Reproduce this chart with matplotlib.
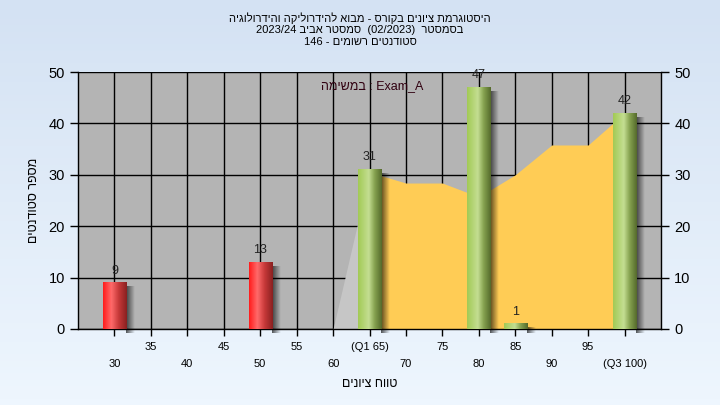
import numpy as np
import matplotlib.pyplot as plt
from matplotlib.colors import to_rgb

plt.rcParams['font.family'] = ['Liberation Sans', 'DejaVu Sans']

# Histogram data (grade bin -> number of students)
grades = [30, 50, 65, 80, 85, 100]
counts = [9, 13, 31, 47, 1, 42]

# Background area series
area_x = [65, 70, 75, 80, 85, 90, 95, 100]
area_y = [30.5, 28.4, 28.4, 25.7, 30, 35.8, 35.8, 42]
wedge_x = [60, 65]
wedge_y = [0, 30.5]

tick_pos = list(range(30, 101, 5))
tick_text = ['30', '35', '40', '45', '50', '55', '60', '(Q1 65)',
             '70', '75', '80', '85', '90', '95', '(Q3 100)']


def vis(s):
    # matplotlib has no bidi, so Hebrew runs are written in visual order
    return s[::-1]


title_lines = [
    vis('היסטוגרמת ציונים בקורס - מבוא להידרוליקה והידרולוגיה'),
    '2023/24 ' + vis('סמסטר אביב') + '  (02/2023)  ' + vis('בסמסטר'),
    '146 - ' + vis('סטודנטים רשומים'),
]
x_title = vis('טווח ציונים')
y_title = vis('מספר סטודנטים')
note = vis('במשימה') + ' : Exam_A'


def gradient(stops, n=64):
    pos = np.linspace(0, 1, n)
    xs = [p for p, _ in stops]
    cols = np.array([to_rgb(c) for _, c in stops])
    return np.stack([np.interp(pos, xs, cols[:, k]) for k in range(3)], axis=1)


red_grad = gradient([(0, '#ff1c1c'), (0.35, '#ff6a6a'), (0.65, '#c83a3a'), (1, '#8a2020')])
green_grad = gradient([(0, '#a2ca55'), (0.45, '#c4de92'), (0.7, '#86a250'), (1, '#556a2c')])

fig = plt.figure(figsize=(7.2, 4.05), dpi=100)

# light blue figure background
bg = fig.add_axes([0, 0, 1, 1], zorder=-10)
bg.imshow(gradient([(0, '#d4e2f3'), (1, '#eef6fe')])[:, np.newaxis, :],
          extent=[0, 1, 0, 1], aspect='auto')
bg.axis('off')

ax = fig.add_axes([78 / 720, 1 - 329 / 405, 583 / 720, 257 / 405])
ax.set_facecolor('#b4b4b4')

ax.fill_between(wedge_x, wedge_y, color='#c6c6c6', lw=0, zorder=2)
ax.fill_between(area_x, area_y, color='#ffcc55', lw=0, zorder=2)

w = 3.2
for g, c in zip(grades, counts):
    grad = red_grad if g < 55 else green_grad
    # soft shadow on the right
    sh = np.zeros((1, 32, 4))
    sh[..., 3] = np.linspace(0.65, 0, 32)
    ax.imshow(sh, extent=[g + w / 2, g + w / 2 + 1.2, -0.8, c - 0.8],
              aspect='auto', zorder=3, clip_on=False)
    ax.imshow(grad[np.newaxis, :, :], extent=[g - w / 2, g + w / 2, 0, c],
              aspect='auto', zorder=4, interpolation='bilinear')
    ax.text(g, c + 1.2, str(c), ha='center', va='bottom', fontsize=9,
            color='#222222', zorder=5)

ax.set_xlim(25, 105)
ax.set_ylim(0, 50)
ax.set_xticks(tick_pos)
ax.set_xticklabels([t if i % 2 else '\n' + t for i, t in enumerate(tick_text)],
                   fontsize=8, linespacing=1.9)
ax.set_yticks(range(0, 51, 10))
ax.tick_params(axis='y', labelsize=10.5, length=6, width=1, colors='black',
               right=True, labelright=True)
ax.tick_params(axis='x', length=5, width=1, pad=4)
ax.grid(True, color='black', lw=1)
ax.set_axisbelow(True)
for side in ['left', 'right', 'bottom']:
    ax.spines[side].set_linewidth(1)
ax.spines['top'].set_visible(False)

ax.text(58.4, 47.3, note, fontsize=9, color='#300010', ha='left', va='center', zorder=5)

ax.set_xlabel(x_title, fontsize=9, labelpad=7)
ax.set_ylabel(y_title, fontsize=9, labelpad=6)

for i, line in enumerate(title_lines):
    fig.text(0.5, 1 - (18 + 12 * i) / 405, line, ha='center', va='center', fontsize=8)

fig.savefig('out.png', dpi=100)
